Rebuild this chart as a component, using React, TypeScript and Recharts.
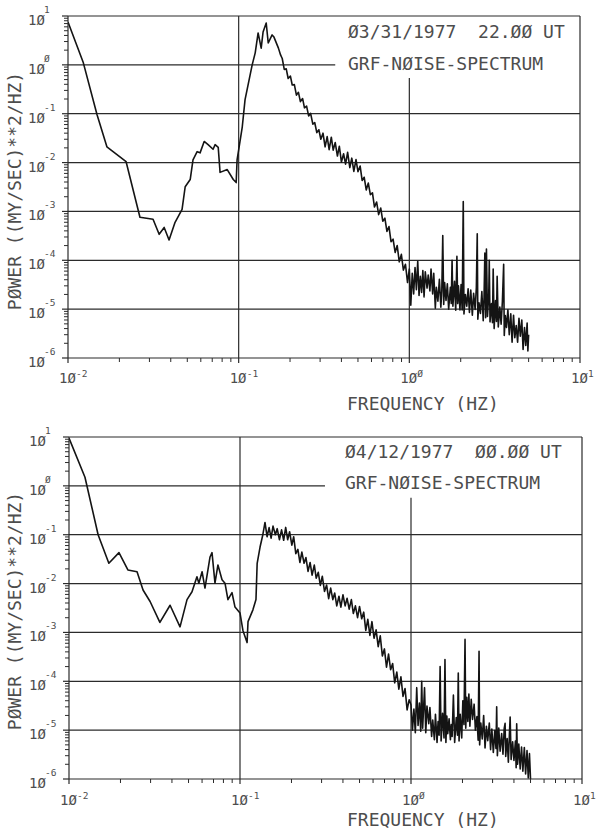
import React from "react";
import { LineChart, Line, XAxis, YAxis, ReferenceLine } from "recharts";

// axis ticks (log decades + minor 2..9 marks)
const freqTicks = [
  0.01, 0.02, 0.03, 0.04, 0.05, 0.06, 0.07, 0.08, 0.09,
  0.1, 0.2, 0.3, 0.4, 0.5, 0.6, 0.7, 0.8, 0.9,
  1, 2, 3, 4, 5, 6, 7, 8, 9, 10,
];
const freqDecades = [0.01, 0.1, 1, 10];
const freqExponents = ["-2", "-1", "Ø", "1"];

const powerTicks = [
  1e-6, 2e-6, 3e-6, 4e-6, 5e-6, 6e-6, 7e-6, 8e-6, 9e-6,
  1e-5, 2e-5, 3e-5, 4e-5, 5e-5, 6e-5, 7e-5, 8e-5, 9e-5,
  1e-4, 2e-4, 3e-4, 4e-4, 5e-4, 6e-4, 7e-4, 8e-4, 9e-4,
  1e-3, 2e-3, 3e-3, 4e-3, 5e-3, 6e-3, 7e-3, 8e-3, 9e-3,
  0.01, 0.02, 0.03, 0.04, 0.05, 0.06, 0.07, 0.08, 0.09,
  0.1, 0.2, 0.3, 0.4, 0.5, 0.6, 0.7, 0.8, 0.9,
  1, 2, 3, 4, 5, 6, 7, 8, 9, 10,
];
const powerDecades = [1e-6, 1e-5, 1e-4, 1e-3, 0.01, 0.1, 1, 10];
const powerExponents = ["-6", "-5", "-4", "-3", "-2", "-1", "Ø", "1"];

// [frequency Hz, power]
const spectrumMar31: [number, number][] = [
  [0.01, 7.5], [0.0123, 1.1], [0.0148, 0.095], [0.0169, 0.021], [0.0219, 0.0104],
  [0.0264, 7.6e-4], [0.0315, 6.9e-4], [0.0342, 3.4e-4], [0.0366, 4.7e-4], [0.0391, 2.6e-4],
  [0.0424, 6.0e-4], [0.0466, 1.1e-3], [0.0486, 3.2e-3], [0.052, 4.5e-3], [0.054, 0.0114],
  [0.0571, 0.0167], [0.0594, 0.0158], [0.0628, 0.027], [0.0662, 0.0233], [0.0708, 0.0187],
  [0.0728, 0.0233], [0.0759, 0.0205], [0.0778, 0.0063], [0.0857, 0.0072], [0.093, 0.0045],
  [0.0967, 0.0039], [0.0979, 0.0114], [0.105, 0.054], [0.109, 0.194], [0.12, 1.0],
  [0.125, 1.76], [0.13, 4.5], [0.1355, 2.2], [0.139, 4.7], [0.145, 7.2],
  [0.149, 2.8], [0.157, 4.1], [0.161, 3.7], [0.171, 2.2], [0.176, 1.6],
  [0.18, 1.35], [0.185, 0.805], [0.19, 0.83], [0.195, 0.525], [0.201, 0.59],
  [0.206, 0.387], [0.212, 0.394], [0.218, 0.24], [0.224, 0.274], [0.23, 0.177],
  [0.237, 0.204], [0.243, 0.132], [0.25, 0.143], [0.257, 0.09], [0.264, 0.102],
  [0.272, 0.061], [0.279, 0.066], [0.287, 0.041], [0.295, 0.047], [0.303, 0.03],
  [0.312, 0.04], [0.321, 0.021], [0.33, 0.034], [0.339, 0.0184], [0.349, 0.033],
  [0.358, 0.018], [0.368, 0.0257], [0.379, 0.0136], [0.389, 0.0216], [0.4, 0.0102],
  [0.412, 0.0151], [0.423, 0.0093], [0.435, 0.0162], [0.448, 0.0079], [0.46, 0.0123],
  [0.473, 0.0066], [0.487, 0.0115], [0.5, 0.0065], [0.515, 0.0085], [0.529, 0.0043],
  [0.544, 0.005], [0.559, 0.00275], [0.575, 0.0038], [0.591, 0.0022], [0.608, 0.0024],
  [0.625, 0.00123], [0.643, 0.00156], [0.661, 8.6e-4], [0.68, 0.00117], [0.699, 6.3e-4],
  [0.719, 7.3e-4], [0.739, 3.9e-4], [0.76, 4.9e-4], [0.781, 2.4e-4], [0.803, 2.7e-4],
  [0.826, 1.45e-4], [0.849, 2.0e-4], [0.873, 9.3e-5], [0.898, 1.32e-4], [0.923, 6.3e-5],
  [0.949, 8.3e-5], [0.976, 3.5e-5],
  [1.0, 6.6e-5], [1.02, 1.2e-5], [1.04, 5.4e-5], [1.06, 2.05e-5], [1.08, 7.1e-5],
  [1.1, 2.5e-5], [1.12, 9.5e-5], [1.14, 1.9e-5], [1.16, 4.7e-5], [1.18, 2.2e-5],
  [1.2, 6.2e-5], [1.22, 1.78e-5], [1.24, 5.8e-5], [1.27, 2.7e-5], [1.29, 5.0e-5],
  [1.32, 2.35e-5], [1.34, 6.6e-5], [1.37, 2.05e-5], [1.39, 5.4e-5], [1.42, 1.05e-5],
  [1.44, 2.8e-5], [1.47, 1.45e-5], [1.5, 4.1e-5], [1.53, 1.1e-5], [1.55, 2.4e-5],
  [1.57, 3.2e-4], [1.59, 1.25e-5], [1.61, 3.5e-5], [1.64, 1.5e-5], [1.67, 3.3e-5],
  [1.7, 1.0e-5], [1.74, 2.8e-5], [1.76, 1.3e-5], [1.78, 1.0e-4], [1.8, 1.15e-5],
  [1.84, 3.7e-5], [1.87, 9.5e-6], [1.9, 1.2e-4], [1.92, 1.3e-5], [1.94, 3.0e-5],
  [1.98, 9.6e-6], [2.01, 3.2e-5], [2.04, 9.6e-6], [2.07, 1.6e-3], [2.09, 8.0e-6],
  [2.13, 2.0e-5], [2.17, 1.15e-5], [2.21, 2.6e-5], [2.25, 8.6e-6], [2.29, 2.45e-5],
  [2.34, 7.5e-6], [2.38, 2.1e-5], [2.43, 9.9e-6], [2.47, 2.8e-5], [2.5, 3.5e-4],
  [2.52, 6.2e-6], [2.56, 1.35e-5], [2.61, 8.2e-6], [2.66, 2.3e-5], [2.71, 5.8e-6],
  [2.74, 1.75e-5], [2.77, 1.4e-4], [2.8, 6.7e-6], [2.83, 1.7e-4], [2.87, 7.1e-6],
  [2.92, 2.0e-5], [2.94, 1.0e-4], [2.97, 5.5e-6], [3.03, 1.3e-5], [3.07, 5.3e-6],
  [3.1, 6.6e-5], [3.14, 4.0e-6], [3.2, 1.5e-5], [3.24, 5.6e-6], [3.27, 4.7e-5],
  [3.32, 4.3e-6], [3.39, 1.1e-5], [3.45, 4.9e-6], [3.51, 1.45e-5], [3.57, 8.3e-5],
  [3.6, 2.9e-6], [3.65, 7.4e-6], [3.71, 4.2e-6], [3.78, 9.7e-6], [3.85, 3.0e-6],
  [3.93, 8.0e-6], [4.0, 2.1e-6], [4.08, 7.5e-6], [4.15, 2.6e-6], [4.23, 4.6e-6],
  [4.31, 2.1e-6], [4.39, 6.5e-6], [4.47, 2.8e-6], [4.56, 6.0e-6], [4.64, 1.5e-6],
  [4.73, 4.2e-6], [4.81, 1.8e-6], [4.9, 5.2e-6], [4.95, 1.4e-6], [5.0, 3.0e-6],
];

// [frequency Hz, power]
const spectrumApr12: [number, number][] = [
  [0.01, 9.5], [0.0124, 1.5], [0.0148, 0.1], [0.0171, 0.026], [0.0196, 0.043],
  [0.0221, 0.019], [0.025, 0.0175], [0.0271, 0.0074], [0.0298, 0.0043], [0.034, 1.6e-3],
  [0.039, 3.6e-3], [0.0446, 1.3e-3], [0.049, 4.7e-3], [0.0524, 6.8e-3], [0.056, 0.0138],
  [0.0575, 0.0102], [0.06, 0.0175], [0.0624, 0.0081], [0.0668, 0.035], [0.0686, 0.043],
  [0.0714, 0.0102], [0.0743, 0.024], [0.0785, 0.012], [0.0817, 0.0102], [0.085, 0.0047],
  [0.0898, 0.0065], [0.0935, 0.0033], [0.1, 0.0025], [0.104, 1.1e-3], [0.11, 6.2e-4],
  [0.1114, 1.66e-3], [0.119, 2.9e-3], [0.124, 4.7e-3], [0.126, 0.026], [0.131, 0.056],
  [0.136, 0.1], [0.14, 0.178], [0.144, 0.091], [0.148, 0.14], [0.152, 0.085],
  [0.156, 0.15], [0.161, 0.1], [0.165, 0.133], [0.17, 0.079], [0.175, 0.126],
  [0.18, 0.077], [0.185, 0.141], [0.19, 0.079], [0.195, 0.115], [0.201, 0.061],
  [0.206, 0.091], [0.212, 0.041], [0.218, 0.05], [0.224, 0.027], [0.23, 0.044],
  [0.237, 0.026], [0.243, 0.034], [0.25, 0.0178], [0.257, 0.027], [0.264, 0.0149],
  [0.272, 0.024], [0.279, 0.0129], [0.287, 0.017], [0.295, 0.0092], [0.303, 0.0141],
  [0.312, 0.0069], [0.321, 0.0093], [0.33, 0.0049], [0.339, 0.0081], [0.349, 0.0047],
  [0.358, 0.0064], [0.368, 0.0035], [0.379, 0.0055], [0.389, 0.0033], [0.4, 0.0059],
  [0.412, 0.0035], [0.423, 0.005], [0.435, 0.003], [0.448, 0.0047], [0.46, 0.00244],
  [0.473, 0.0035], [0.487, 0.002], [0.5, 0.0034], [0.515, 0.0019], [0.529, 0.0026],
  [0.544, 0.0011], [0.559, 0.00185], [0.575, 8.7e-4], [0.591, 0.00166], [0.608, 7.6e-4],
  [0.625, 0.00113], [0.643, 5.1e-4], [0.661, 8.5e-4], [0.68, 3.3e-4], [0.699, 4.6e-4],
  [0.719, 1.95e-4], [0.739, 3.6e-4], [0.76, 1.73e-4], [0.781, 2.3e-4], [0.803, 9.3e-5],
  [0.826, 1.54e-4], [0.849, 6.9e-5], [0.873, 1.23e-4], [0.898, 4.9e-5], [0.923, 7.1e-5],
  [0.949, 2.6e-5], [0.976, 4.2e-5],
  [1.0, 3.3e-5], [1.02, 1.0e-5], [1.04, 2.7e-5], [1.06, 8.9e-6], [1.08, 7.4e-5],
  [1.1, 1.25e-5], [1.12, 3.6e-5], [1.14, 9.5e-6], [1.155, 1.0e-4], [1.17, 1.1e-5],
  [1.2, 7.4e-5], [1.22, 8.9e-6], [1.24, 3.1e-5], [1.27, 1.35e-5], [1.29, 2.9e-5],
  [1.32, 7.4e-6], [1.34, 1.6e-5], [1.37, 6.4e-6], [1.39, 2.1e-5], [1.42, 5.6e-6],
  [1.44, 1.5e-5], [1.46, 7.9e-6], [1.48, 2.0e-4], [1.5, 6.0e-6], [1.53, 2.2e-5],
  [1.56, 6.9e-6], [1.58, 2.8e-4], [1.6, 5.6e-6], [1.62, 1.95e-5], [1.64, 8.5e-6],
  [1.67, 1.7e-5], [1.7, 6.4e-6], [1.72, 1.3e-5], [1.74, 7.4e-6], [1.77, 5.2e-5],
  [1.8, 5.6e-6], [1.84, 1.8e-5], [1.87, 7.9e-6], [1.89, 1.48e-4], [1.91, 6.0e-6],
  [1.94, 2.1e-5], [1.98, 6.9e-6], [2.01, 4.0e-5], [2.04, 1.3e-5], [2.07, 7.2e-4],
  [2.09, 1.1e-5], [2.12, 4.7e-5], [2.15, 1.5e-5], [2.18, 5.5e-5], [2.21, 1.2e-5],
  [2.25, 4.3e-5], [2.29, 1.65e-5], [2.34, 3.4e-5], [2.38, 1.0e-5], [2.43, 1.9e-5],
  [2.47, 6.2e-6], [2.5, 4.1e-4], [2.52, 5.0e-6], [2.56, 1.4e-5], [2.61, 6.6e-6],
  [2.66, 2.0e-5], [2.71, 4.3e-6], [2.76, 1.2e-5], [2.81, 6.1e-6], [2.87, 1.4e-5],
  [2.92, 4.0e-6], [2.97, 1.05e-5], [3.03, 3.5e-6], [3.09, 9.8e-6], [3.14, 4.2e-6],
  [3.17, 3.0e-5], [3.2, 3.0e-6], [3.26, 1.1e-5], [3.32, 3.7e-6], [3.39, 8.5e-6],
  [3.45, 3.2e-6], [3.51, 1.1e-5], [3.55, 1.38e-5], [3.58, 2.9e-6], [3.65, 6.7e-6],
  [3.71, 2.2e-6], [3.76, 7.7e-6], [3.8, 1.86e-5], [3.85, 2.5e-6], [3.93, 5.8e-6],
  [4.0, 2.4e-6], [4.08, 6.0e-6], [4.12, 1.7e-6], [4.15, 1.35e-5], [4.2, 2.0e-6],
  [4.27, 5.2e-6], [4.35, 1.6e-6], [4.43, 4.5e-6], [4.51, 1.45e-6], [4.6, 4.4e-6],
  [4.68, 1.27e-6], [4.77, 3.8e-6], [4.85, 1.05e-6], [4.93, 3.3e-6], [5.0, 1.0e-6],
];

const FONT = '"DejaVu Sans Mono", monospace';
const INK = "#2b2b2b";
const TEXT = "#4d4d4d";

function PowerTick(props: any) {
  const { x, y, payload } = props;
  const i = powerDecades.indexOf(payload.value);
  if (i < 0) {
    return <line x1={x - 4} x2={x} y1={y} y2={y} stroke={INK} strokeWidth={1} />;
  }
  return (
    <g>
      <line x1={x - 6} x2={x} y1={y} y2={y} stroke={INK} strokeWidth={1.2} />
      <text x={x - 40} y={y + 9} fontSize={14} fill={TEXT} fontFamily={FONT}>
        1Ø
      </text>
      <text x={x - 24} y={y - 3} fontSize={9.5} fill={TEXT} fontFamily={FONT}>
        {powerExponents[i]}
      </text>
    </g>
  );
}

function makeFreqTick(labelDy: number) {
  return function FreqTick(props: any) {
    const { x, y, payload } = props;
    const i = freqDecades.indexOf(payload.value);
    if (i < 0) {
      return <line x1={x} x2={x} y1={y} y2={y + 4} stroke={INK} strokeWidth={1} />;
    }
    return (
      <g>
        <line x1={x} x2={x} y1={y} y2={y + 5} stroke={INK} strokeWidth={1.2} />
        <text x={x - 9} y={y + labelDy} fontSize={14} fill={TEXT} fontFamily={FONT}>
          1Ø
        </text>
        <text x={x + 8} y={y + labelDy - 6} fontSize={9.5} fill={TEXT} fontFamily={FONT}>
          {freqExponents[i]}
        </text>
      </g>
    );
  };
}

interface PanelProps {
  data: [number, number][];
  dateLabel: string;
  plotTop: number;
  plotLeft: number;
  plotRight: number;
  plotBottom: number;
  tickLabelDy: number;
  gridEndFreq: number;
  vLineTopPower: number;
  headerX: number;
  dateY: number;
  titleY: number;
  freqLabelY: number;
}

function SpectrumPanel(p: PanelProps) {
  const W = 596;
  const H = 420;
  const xAxisH = 40;
  const rows = p.data.map(([f, v]) => ({ f, p: v }));
  const FreqTick = makeFreqTick(p.tickLabelDy);
  const grid = { stroke: INK, strokeWidth: 1.2 };

  return (
    <div style={{ position: "relative", width: W, height: H }}>
      <LineChart
        width={W}
        height={H}
        data={rows}
        margin={{ top: p.plotTop, right: W - p.plotRight, left: 0, bottom: H - p.plotBottom - xAxisH }}
      >
        <XAxis
          type="number"
          dataKey="f"
          scale="log"
          domain={[0.01, 10]}
          allowDataOverflow
          ticks={freqTicks}
          interval={0}
          tickSize={0}
          tickMargin={0}
          tickLine={false}
          tick={<FreqTick />}
          axisLine={{ stroke: INK, strokeWidth: 1.2 }}
          height={xAxisH}
        />
        <YAxis
          type="number"
          scale="log"
          domain={[1e-6, 10]}
          allowDataOverflow
          ticks={powerTicks}
          interval={0}
          tickSize={0}
          tickMargin={0}
          tickLine={false}
          tick={<PowerTick />}
          axisLine={{ stroke: INK, strokeWidth: 1.2 }}
          width={p.plotLeft}
        />
        {[0.1, 0.01, 1e-3, 1e-4, 1e-5].map((v) => (
          <ReferenceLine key={v} y={v} {...grid} />
        ))}
        <ReferenceLine y={10} {...grid} />
        <ReferenceLine x={10} {...grid} />
        <ReferenceLine x={0.1} {...grid} />
        <ReferenceLine segment={[{ x: 0.01, y: 1 }, { x: p.gridEndFreq, y: 1 }]} {...grid} />
        <ReferenceLine segment={[{ x: 1, y: p.vLineTopPower }, { x: 1, y: 1e-6 }]} {...grid} />
        <Line
          type="linear"
          dataKey="p"
          stroke="#141414"
          strokeWidth={1.6}
          strokeLinejoin="round"
          dot={false}
          isAnimationActive={false}
        />
      </LineChart>
      <svg
        width={W}
        height={H}
        style={{ position: "absolute", left: 0, top: 0, pointerEvents: "none" }}
      >
        <g fontFamily={FONT} fontSize={18} fill={TEXT}>
          <text x={p.headerX} y={p.dateY} xmlSpace="preserve" style={{ whiteSpace: "pre" }}>
            {p.dateLabel}
          </text>
          <text x={p.headerX} y={p.titleY}>GRF-NØISE-SPECTRUM</text>
          <text x={347} y={p.freqLabelY} xmlSpace="preserve" style={{ whiteSpace: "pre" }}>
            FREQUENCY (HZ)
          </text>
          <text x={21} y={191} textAnchor="middle" transform="rotate(-90 21 191)">
            PØWER ((MY/SEC)**2/HZ)
          </text>
        </g>
      </svg>
    </div>
  );
}

export default function App() {
  return (
    <div style={{ position: "absolute", left: 0, top: 0, width: 596, height: 835, background: "#fff" }}>
      <SpectrumPanel
        data={spectrumMar31}
        dateLabel="Ø3/31/1977  22.ØØ UT"
        plotTop={16}
        plotLeft={68}
        plotRight={580}
        plotBottom={358}
        tickLabelDy={25}
        gridEndFreq={0.368}
        vLineTopPower={0.54}
        headerX={348}
        dateY={38}
        titleY={70}
        freqLabelY={410}
      />
      <SpectrumPanel
        data={spectrumApr12}
        dateLabel="Ø4/12/1977  ØØ.ØØ UT"
        plotTop={17}
        plotLeft={69}
        plotRight={582}
        plotBottom={359}
        tickLabelDy={26}
        gridEndFreq={0.314}
        vLineTopPower={0.57}
        headerX={345}
        dateY={38}
        titleY={69}
        freqLabelY={406}
      />
    </div>
  );
}
